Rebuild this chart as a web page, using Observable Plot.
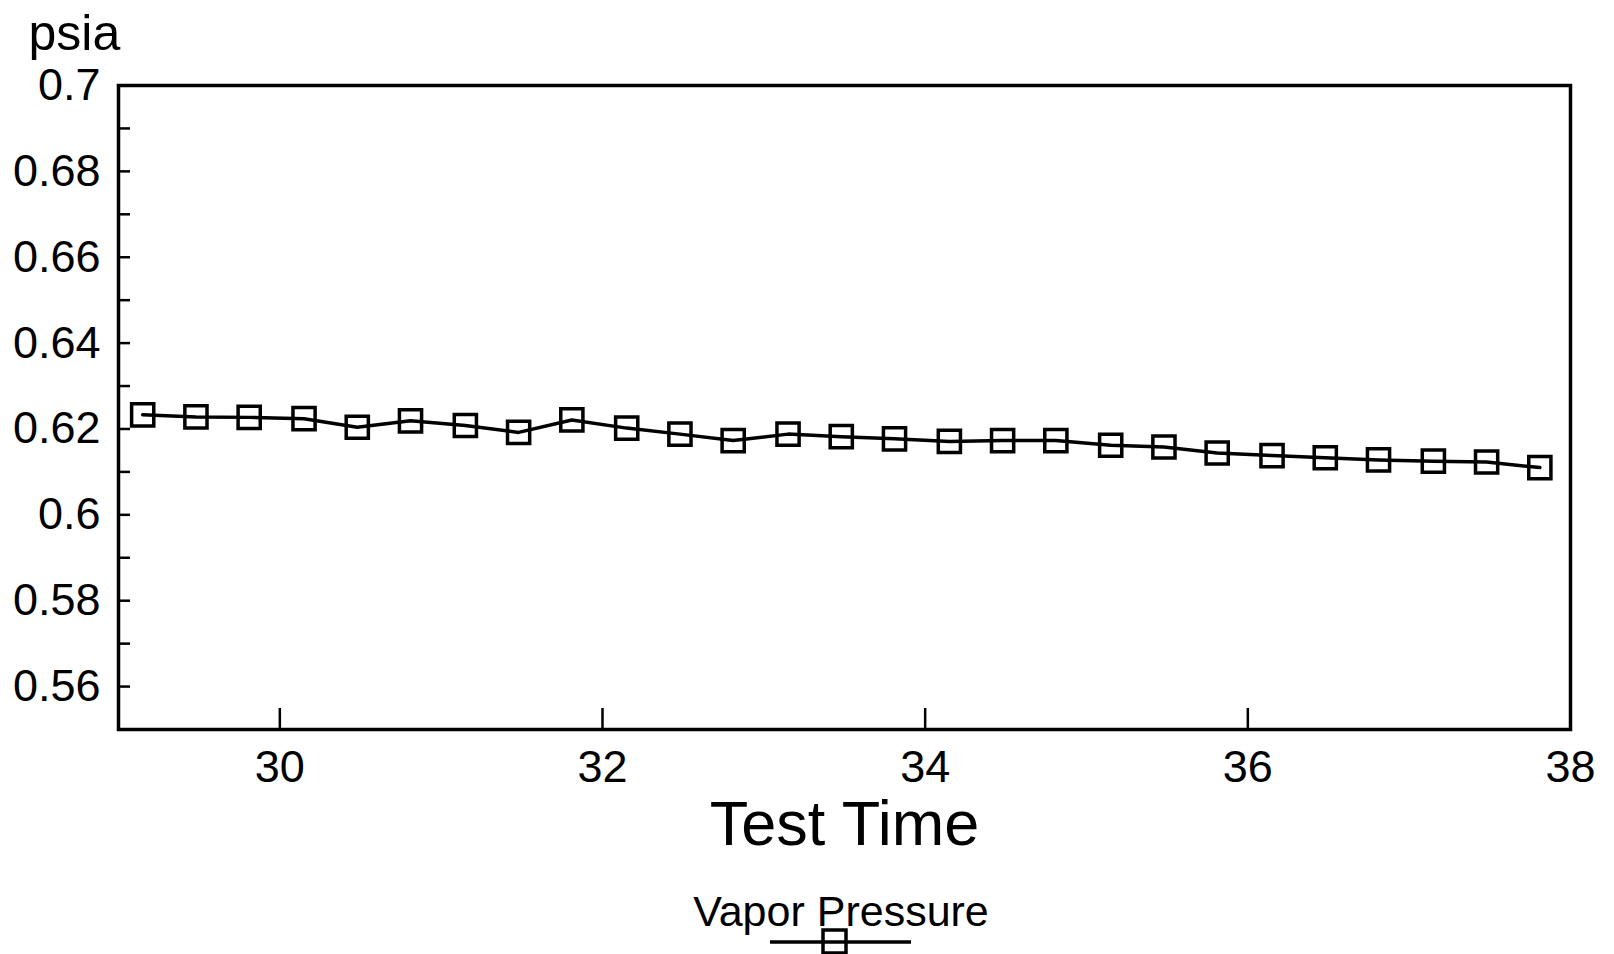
<!DOCTYPE html>
<html><head><meta charset="utf-8">
<script src="https://cdn.jsdelivr.net/npm/d3@7"></script>
<script src="https://cdn.jsdelivr.net/npm/@observablehq/plot@0.6"></script>
<style>
html,body{margin:0;padding:0;background:#fff;width:1614px;height:954px;overflow:hidden;}
#chart svg{display:block;}
#legend{width:1614px;height:84px;}
#legend svg{display:block;}
</style></head><body>
<div id="chart"></div>
<div id="legend"></div>
<script>
const seriesName = "Vapor Pressure";
const yUnit = "psia";
const xTitle = "Test Time";
const times = [29.15, 29.48, 29.81, 30.15, 30.48, 30.81, 31.15, 31.48, 31.81,
               32.15, 32.48, 32.81, 33.15, 33.48, 33.81, 34.15, 34.48, 34.81,
               35.15, 35.48, 35.81, 36.15, 36.48, 36.81, 37.15, 37.48, 37.81];
const pressures = [0.6233, 0.6228, 0.6227, 0.6224, 0.6204, 0.6219, 0.6208, 0.6192, 0.6221,
                   0.6202, 0.6188, 0.6173, 0.6188, 0.6182, 0.6177, 0.6171, 0.6173, 0.6173,
                   0.6162, 0.6158, 0.6144, 0.6138, 0.6133, 0.6128, 0.6125, 0.6123, 0.6110];
const xTickLabels = [30, 32, 34, 36, 38];
const xTickMarks = [30, 32, 34, 36];
const yTickLabels = [0.56, 0.58, 0.60, 0.62, 0.64, 0.66, 0.68, 0.70];
const yTickMarks = [0.56, 0.57, 0.58, 0.59, 0.60, 0.61, 0.62, 0.63, 0.64, 0.65, 0.66, 0.67, 0.68, 0.69];
const xDomain = [29, 38];
const yDomain = [0.55, 0.70];

const data = times.map((t, i) => ({t, p: pressures[i]}));

const FONT = '"Liberation Sans", Arial, sans-serif';
const W = 1614, H = 870, mL = 118, mR = 44, mT = 85, mB = 141;
const fw = W - mL - mR, fh = H - mT - mB;

const chart = Plot.plot({
  width: W, height: H,
  marginLeft: mL, marginRight: mR, marginTop: mT, marginBottom: mB,
  style: {fontFamily: FONT, color: "#000", background: "#fff", overflow: "visible"},
  x: {domain: xDomain},
  y: {domain: yDomain},
  marks: [
    Plot.frame({stroke: "#000", strokeWidth: 3.5}),
    Plot.tickX(xTickMarks, {x: d => d, insetTop: fh - 21, stroke: "#000", strokeWidth: 2.5}),
    Plot.tickY(yTickMarks, {y: d => d, insetRight: fw - 12, stroke: "#000", strokeWidth: 2.5}),
    Plot.axisX({ticks: xTickLabels, tickSize: 0, tickPadding: 21, fontSize: 45, label: null,
                tickFormat: d => String(d)}),
    Plot.axisY({ticks: yTickLabels, tickSize: 0, tickPadding: 18, fontSize: 45, label: null,
                tickFormat: d => String(+d.toFixed(2))}),
    Plot.line(data, {x: "t", y: "p", stroke: "#000", strokeWidth: 3.5}),
    Plot.dot(data, {x: "t", y: "p", symbol: "square", r: 12.5, stroke: "#000", strokeWidth: 3.5, fill: "none"}),
    Plot.text([yUnit], {text: d => d, frameAnchor: "top-left", textAnchor: "start", lineAnchor: "middle",
                        dx: -90, dy: -52, fontSize: 50}),
    Plot.text([xTitle], {text: d => d, frameAnchor: "bottom", textAnchor: "middle", lineAnchor: "middle",
                         dy: 95, fontSize: 63})
  ]
});
document.getElementById("chart").appendChild(chart);

// legend below the chart
const lg = d3.select("#legend").append("svg").attr("width", 1614).attr("height", 84)
  .style("font-family", FONT);
lg.append("text").attr("x", 841).attr("y", 56).attr("text-anchor", "middle")
  .attr("font-size", 43).attr("fill", "#000").text(seriesName);
lg.append("line").attr("x1", 770).attr("x2", 911).attr("y1", 72).attr("y2", 72)
  .attr("stroke", "#000").attr("stroke-width", 3.5);
lg.append("rect").attr("x", 823).attr("y", 60).attr("width", 23).attr("height", 23)
  .attr("fill", "none").attr("stroke", "#000").attr("stroke-width", 3.5);
</script>
</body></html>
